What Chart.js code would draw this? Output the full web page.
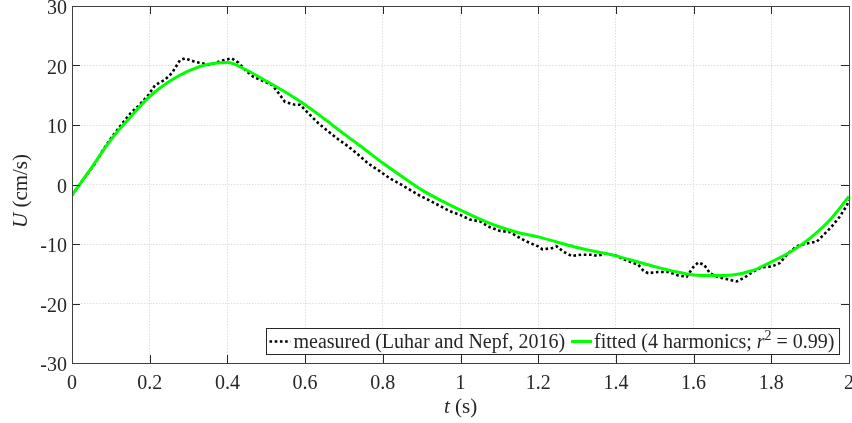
<!DOCTYPE html>
<html>
<head>
<meta charset="utf-8">
<script src="https://cdn.jsdelivr.net/npm/chart.js@4"></script>
<style>
    html, body { margin: 0; padding: 0; background: #fff; }
    canvas { display: block; }
</style>
</head>
<body>
<canvas id="chart" width="852" height="423"></canvas>
<script>
// measured velocity record, t in s, U in cm/s
const measuredT = [0, 0.025, 0.057, 0.081, 0.105, 0.130, 0.151, 0.171, 0.196, 0.214,
    0.239, 0.257, 0.278, 0.291, 0.317, 0.342, 0.355, 0.385, 0.411, 0.428,
    0.448, 0.467, 0.492, 0.516, 0.537, 0.548, 0.574, 0.587, 0.608, 0.634,
    0.660, 0.685, 0.711, 0.737, 0.763, 0.793, 0.819, 0.844, 0.870, 0.896,
    0.921, 0.947, 0.973, 0.999, 1.024, 1.050, 1.076, 1.102, 1.127, 1.153,
    1.177, 1.200, 1.211, 1.235, 1.248, 1.265, 1.286, 1.312, 1.338, 1.351,
    1.376, 1.402, 1.428, 1.458, 1.471, 1.483, 1.509, 1.535, 1.561, 1.582,
    1.599, 1.612, 1.627, 1.642, 1.664, 1.685, 1.711, 1.732, 1.752, 1.775,
    1.801, 1.822, 1.841, 1.865, 1.891, 1.917, 1.934, 1.955, 1.975, 1.994, 2.0];
const measuredU = [-1.8, 0.5, 3.3, 5.9, 8.2, 10.3, 12.0, 13.2, 15.0, 16.7,
    17.6, 18.7, 20.9, 21.2, 20.6, 20.3, 20.1, 20.8, 21.2, 20.5,
    19.1, 18.1, 17.4, 16.7, 14.9, 13.9, 13.4, 13.4, 12.0, 10.3,
    8.9, 7.6, 6.4, 5.0, 3.5, 2.2, 1.0, 0.1, -0.9, -1.9,
    -2.7, -3.6, -4.5, -5.1, -5.9, -6.2, -7.2, -7.8, -8.0, -9.0,
    -9.8, -10.4, -10.9, -10.7, -10.4, -11.3, -12.0, -11.8, -11.8, -12.0,
    -11.6, -12.0, -12.8, -13.5, -14.5, -14.9, -14.7, -14.7, -15.3, -15.5,
    -13.9, -13.1, -13.5, -14.9, -15.6, -15.9, -16.3, -15.6, -14.7, -13.9,
    -13.8, -13.2, -11.7, -10.4, -9.9, -9.6, -8.5, -7.1, -5.5, -3.6, -2.6];

// four-harmonic fit
const fittedT = [0, 0.05, 0.1, 0.15, 0.2, 0.25, 0.3, 0.35, 0.4, 0.45,
    0.5, 0.55, 0.6, 0.65, 0.7, 0.75, 0.8, 0.85, 0.9, 0.95,
    1.0, 1.05, 1.1, 1.15, 1.2, 1.25, 1.3, 1.35, 1.4, 1.45,
    1.5, 1.55, 1.6, 1.65, 1.7, 1.75, 1.8, 1.85, 1.9, 1.95, 2.0];
const fittedU = [-1.8, 2.8, 7.5, 11.3, 14.8, 17.3, 19.1, 20.2, 20.5, 19.2,
    17.4, 15.5, 13.4, 11.0, 8.5, 6.1, 3.6, 1.3, -0.9, -2.7,
    -4.3, -5.8, -7.1, -8.1, -8.8, -9.7, -10.6, -11.3, -12.0, -12.9,
    -13.8, -14.6, -15.2, -15.3, -15.2, -14.5, -13.0, -11.3, -9.0, -6.0, -2.0];

const xTicks = [0, 0.2, 0.4, 0.6, 0.8, 1, 1.2, 1.4, 1.6, 1.8, 2];
const yTicks = [-30, -20, -10, 0, 10, 20, 30];

const SERIF = "'Liberation Serif', 'DejaVu Serif', serif";
const TICK_SIZE = 20;
const LEGEND_SIZE = 20;
const INK = '#262626';

const toPoints = (xs, ys) => xs.map((x, i) => ({x: x, y: ys[i]}));

// draws the box, inward ticks, axis titles and the legend
const framePlugin = {
    id: 'frame',
    afterDraw(chart) {
        const ctx = chart.ctx;
        const a = chart.chartArea;
        const xs = chart.scales.x;
        const ys = chart.scales.y;
        const tick = 8;

        ctx.save();
        ctx.strokeStyle = INK;
        ctx.lineWidth = 1;
        ctx.beginPath();
        xTicks.forEach(v => {
            const px = Math.round(xs.getPixelForValue(v)) + 0.5;
            ctx.moveTo(px, a.bottom); ctx.lineTo(px, a.bottom - tick);
            ctx.moveTo(px, a.top); ctx.lineTo(px, a.top + tick);
        });
        yTicks.forEach(v => {
            const py = Math.round(ys.getPixelForValue(v)) + 0.5;
            ctx.moveTo(a.left, py); ctx.lineTo(a.left + tick, py);
            ctx.moveTo(a.right, py); ctx.lineTo(a.right - tick, py);
        });
        ctx.stroke();
        ctx.strokeStyle = '#404040';
        ctx.strokeRect(Math.round(a.left) + 0.5, Math.round(a.top) + 0.5,
            Math.round(a.right - a.left), Math.round(a.bottom - a.top));

        // axis titles
        ctx.fillStyle = INK;
        ctx.textBaseline = 'alphabetic';
        const italic = `italic ${TICK_SIZE + 1}px ${SERIF}`;
        const upright = `${TICK_SIZE + 1}px ${SERIF}`;
        const drawRuns = (runs, cx, cy) => {
            let w = 0;
            runs.forEach(r => { ctx.font = r[1]; w += ctx.measureText(r[0]).width; });
            let x = cx - w / 2;
            runs.forEach(r => {
                ctx.font = r[1];
                ctx.fillText(r[0], x, cy);
                x += ctx.measureText(r[0]).width;
            });
        };
        drawRuns([['t', italic], [' (s)', upright]], (a.left + a.right) / 2, 413);
        ctx.save();
        ctx.translate(27, 191);
        ctx.rotate(-Math.PI / 2);
        drawRuns([['U', italic], [' (cm/s)', upright]], 0, 0);
        ctx.restore();

        // legend
        const ds = chart.data.datasets;
        const lf = `${LEGEND_SIZE}px ${SERIF}`;
        const lfi = `italic ${LEGEND_SIZE}px ${SERIF}`;
        const sup = `${LEGEND_SIZE - 6}px ${SERIF}`;
        const fittedRuns = [['fitted (4 harmonics; ', lf, 0], ['r', lfi, 0], ['2', sup, -8], [' = 0.99)', lf, 0]];
        ctx.font = lf;
        const w1 = ctx.measureText(ds[0].label).width;
        let w2 = 0;
        fittedRuns.forEach(r => { ctx.font = r[1]; w2 += ctx.measureText(r[0]).width; });
        const sample = 21;
        const boxW = 3 + sample + 3 + w1 + 6 + sample + 2 + w2 + 5;
        const boxH = 26;
        const bx = Math.round(a.right - 10 - boxW) + 0.5;
        const by = Math.round(a.bottom - 9 - boxH) + 0.5;
        ctx.fillStyle = '#fff';
        ctx.fillRect(bx, by, boxW, boxH);
        ctx.strokeStyle = INK;
        ctx.lineWidth = 1;
        ctx.strokeRect(bx, by, boxW, boxH);

        const cy = by + boxH / 2;
        const base = cy + 6;
        let x = bx + 3;
        ctx.lineCap = 'butt';
        ctx.strokeStyle = ds[0].borderColor;
        ctx.lineWidth = ds[0].borderWidth;
        ctx.setLineDash(ds[0].borderDash);
        ctx.beginPath(); ctx.moveTo(x, cy); ctx.lineTo(x + sample, cy); ctx.stroke();
        ctx.setLineDash([]);
        x += sample + 3;
        ctx.fillStyle = INK;
        ctx.font = lf;
        ctx.fillText(ds[0].label, x, base);
        x += w1 + 6;
        ctx.strokeStyle = ds[1].borderColor;
        ctx.lineWidth = ds[1].borderWidth;
        ctx.beginPath(); ctx.moveTo(x, cy); ctx.lineTo(x + sample, cy); ctx.stroke();
        x += sample + 2;
        fittedRuns.forEach(r => {
            ctx.font = r[1];
            ctx.fillText(r[0], x, base + r[2]);
            x += ctx.measureText(r[0]).width;
        });
        ctx.restore();
    }
};

new Chart(document.getElementById('chart'), {
    type: 'line',
    data: {
        datasets: [{
            label: 'measured (Luhar and Nepf, 2016)',
            data: toPoints(measuredT, measuredU),
            borderColor: '#000000',
            borderWidth: 2.6,
            borderDash: [2.6, 2.6],
            borderCapStyle: 'butt',
            pointRadius: 0,
            tension: 0,
            order: 1
        }, {
            label: 'fitted (4 harmonics; r2 = 0.99)',
            data: toPoints(fittedT, fittedU),
            borderColor: '#00ff00',
            borderWidth: 3,
            pointRadius: 0,
            cubicInterpolationMode: 'monotone',
            order: 0
        }]
    },
    options: {
        responsive: false,
        animation: false,
        layout: {padding: {top: 6, right: 3, left: 0, bottom: 0}},
        plugins: {
            legend: {display: false},
            tooltip: {enabled: false}
        },
        scales: {
            x: {
                type: 'linear',
                min: 0,
                max: 2,
                afterBuildTicks: s => { s.ticks = xTicks.map(v => ({value: v})); },
                afterFit: s => {
                    s.height = 60;
                    s.paddingLeft = 0; s.paddingRight = 0;
                },
                grid: {color: '#dedede', lineWidth: 1, drawTicks: false},
                border: {display: false, dash: [1.5, 1.5]},
                ticks: {
                    padding: 9,
                    color: INK,
                    font: {family: SERIF, size: TICK_SIZE},
                    callback: v => String(+v.toFixed(1))
                }
            },
            y: {
                min: -30,
                max: 30,
                afterBuildTicks: s => { s.ticks = yTicks.map(v => ({value: v})); },
                afterFit: s => {
                    s.width = 72;
                    s.paddingTop = 0; s.paddingBottom = 0;
                },
                grid: {color: '#dedede', lineWidth: 1, drawTicks: false},
                border: {display: false, dash: [1.5, 1.5]},
                ticks: {
                    padding: 5,
                    labelOffset: 3,
                    color: INK,
                    font: {family: SERIF, size: TICK_SIZE},
                    callback: v => String(v)
                }
            }
        }
    },
    plugins: [framePlugin]
});
</script>
</body>
</html>
